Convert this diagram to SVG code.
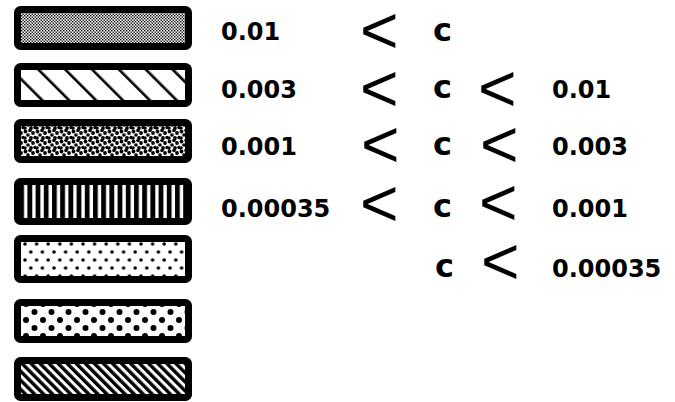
<svg xmlns="http://www.w3.org/2000/svg" width="675" height="402" viewBox="0 0 675 402">
<defs>
<style>
.box{stroke:#000;stroke-width:7;}
.t{font-family:"DejaVu Sans","Liberation Sans",sans-serif;font-weight:bold;font-size:24px;fill:#000;}
.c{font-family:"DejaVu Sans","Liberation Sans",sans-serif;font-weight:bold;font-size:32px;fill:#000;}
.lt{font-family:"Liberation Sans",Arial,sans-serif;font-size:66px;fill:#000;}
</style>
<pattern id="p1" width="3" height="3" patternUnits="userSpaceOnUse">
<rect width="3" height="3" fill="#fff"/>
<rect x="0" y="0" width="1.4" height="1.4" fill="#000"/>
<rect x="1.5" y="1.5" width="1.4" height="1.4" fill="#000"/>
</pattern>
<pattern id="p2" width="19" height="19" patternUnits="userSpaceOnUse" patternTransform="translate(30,63) rotate(-45)">
<rect width="19" height="19" fill="#fff"/>
<rect x="0" y="0" width="2.6" height="19" fill="#000"/>
</pattern>
<pattern id="p3" width="12" height="10" patternUnits="userSpaceOnUse">
<rect width="12" height="10" fill="#fff"/>
<circle cx="1.5" cy="1.5" r="1.9" fill="#000"/>
<circle cx="6" cy="0.5" r="1.8" fill="#000"/>
<circle cx="9" cy="3" r="1.9" fill="#000"/>
<circle cx="4" cy="5" r="1.8" fill="#000"/>
<circle cx="1" cy="8" r="1.8" fill="#000"/>
<circle cx="7" cy="8" r="1.9" fill="#000"/>
<circle cx="11" cy="7.5" r="1.7" fill="#000"/>
<circle cx="13.5" cy="1.5" r="1.9" fill="#000"/>
<circle cx="6" cy="10.5" r="1.8" fill="#000"/>
<circle cx="1.5" cy="11.5" r="1.9" fill="#000"/>
</pattern>
<pattern id="p4" width="8.2" height="10" patternUnits="userSpaceOnUse" patternTransform="translate(21,0)">
<rect width="8.2" height="10" fill="#000"/>
<rect x="3" y="0" width="3.4" height="10" fill="#fff"/>
</pattern>
<pattern id="p5" width="11.6" height="16" patternUnits="userSpaceOnUse" patternTransform="translate(22,242)">
<rect width="11.6" height="16" fill="#fff"/>
<circle cx="3" cy="2" r="1.8" fill="#000"/>
<circle cx="8.8" cy="10" r="1.8" fill="#000"/>
</pattern>
<pattern id="p6" width="17" height="16" patternUnits="userSpaceOnUse" patternTransform="translate(22,304)">
<rect width="17" height="16" fill="#fff"/>
<circle cx="4" cy="0" r="3" fill="#000"/>
<circle cx="4" cy="16" r="3" fill="#000"/>
<circle cx="12.5" cy="8" r="3" fill="#000"/>
</pattern>
<pattern id="p7" width="6.4" height="10" patternUnits="userSpaceOnUse" patternTransform="rotate(-45)">
<rect width="6.4" height="10" fill="#fff"/>
<rect x="0" y="0" width="3.4" height="10" fill="#000"/>
</pattern>
</defs>
<g id="legend-1"><rect class="box" x="17.5" y="9.5" width="171" height="37" rx="3" fill="url(#p1)"/></g>
<g id="legend-2"><rect class="box" x="17.5" y="66.5" width="171" height="37" rx="3" fill="url(#p2)"/></g>
<g id="legend-3"><rect class="box" x="17.5" y="122.5" width="171" height="37" rx="3" fill="url(#p3)"/></g>
<g id="legend-4"><rect class="box" x="17.5" y="181.5" width="171" height="40" rx="3" fill="url(#p4)"/></g>
<g id="legend-5"><rect class="box" x="17.5" y="238.5" width="171" height="41" rx="3" fill="url(#p5)"/></g>
<g id="legend-6"><rect class="box" x="17.5" y="302.5" width="171" height="37" rx="3" fill="url(#p6)"/></g>
<g id="legend-7"><rect class="box" x="17.5" y="360.5" width="171" height="37" rx="3" fill="url(#p7)"/></g>
<g id="labels">
<text class="t" x="221" y="40">0.01</text>
<text class="lt" x="360" y="53">&lt;</text>
<text class="c" x="433" y="41">c</text>

<text class="t" x="221" y="98">0.003</text>
<text class="lt" x="360" y="111">&lt;</text>
<text class="c" x="433" y="98">c</text>
<text class="lt" x="478" y="111">&lt;</text>
<text class="t" x="552" y="98">0.01</text>

<text class="t" x="221" y="155">0.001</text>
<text class="lt" x="361" y="167">&lt;</text>
<text class="c" x="433" y="155">c</text>
<text class="lt" x="480" y="167">&lt;</text>
<text class="t" x="552" y="155">0.003</text>

<text class="t" x="221" y="217">0.00035</text>
<text class="lt" x="360" y="226">&lt;</text>
<text class="c" x="433" y="217">c</text>
<text class="lt" x="479" y="225">&lt;</text>
<text class="t" x="552" y="217">0.001</text>

<text class="c" x="435" y="277">c</text>
<text class="lt" x="481" y="284">&lt;</text>
<text class="t" x="552" y="277">0.00035</text>
</g>
</svg>
